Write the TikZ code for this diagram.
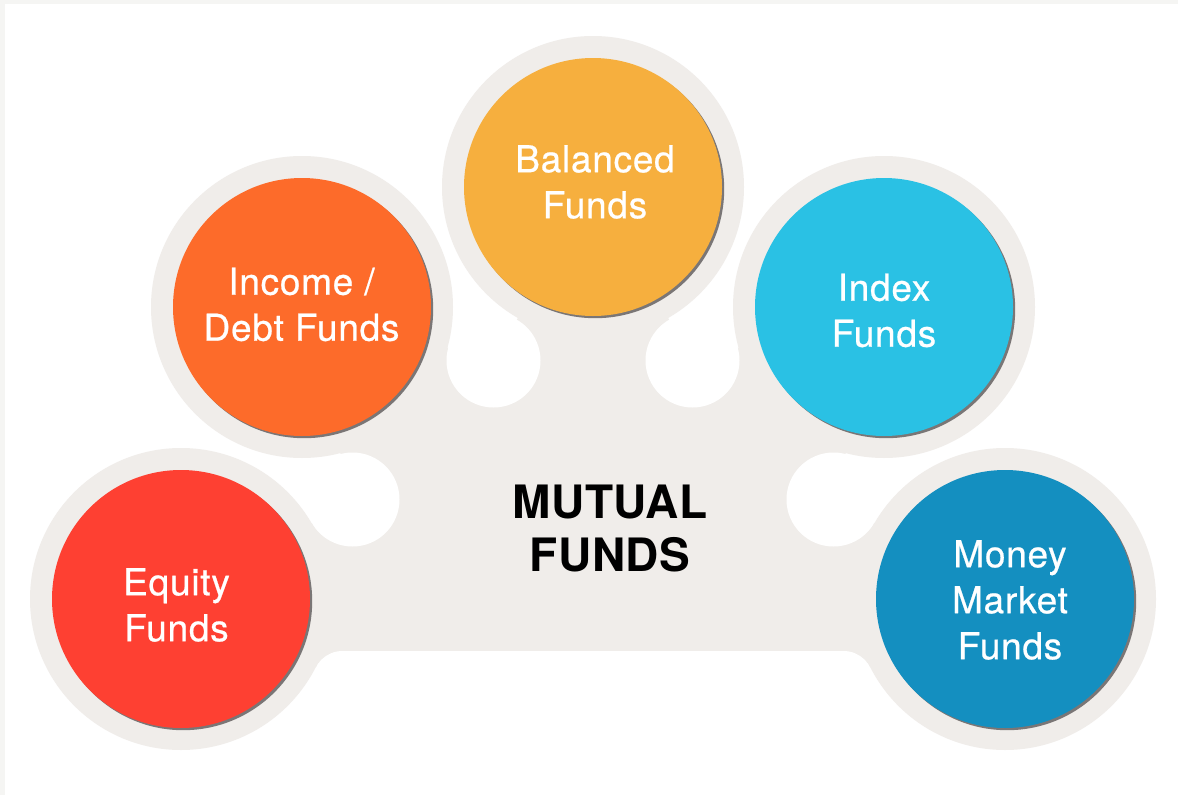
\documentclass[tikz,border=0pt]{standalone}
\usepackage{fontspec}
\setmainfont{TeX Gyre Heros}
\newfontfamily\lblfont[LetterSpace=2.0,FakeBold=0.6]{TeX Gyre Heros}
\newfontfamily\mffont[LetterSpace=1.0]{TeX Gyre Heros}
\definecolor{framec}{HTML}{F5F5F3}
\definecolor{haloc}{HTML}{F0EDEA}
\definecolor{eqcol}{HTML}{FE4032}
\definecolor{inccol}{HTML}{FD6B2A}
\definecolor{balcol}{HTML}{F6AF3E}
\definecolor{idxcol}{HTML}{2AC1E4}
\definecolor{moncol}{HTML}{148FC0}
\definecolor{shadc}{HTML}{7A7676}
\tikzset{
  fundc/.style={circle, minimum size=258pt, inner sep=0pt, draw=none},
  fundt/.style={text=white, align=center, inner sep=0pt, font=\lblfont\fontsize{37}{46}\selectfont},
  halo/.style={fill=haloc, draw=none},
  holec/.style={fill=white, draw=none}
}
\begin{document}
\begin{tikzpicture}[x=1pt,y=-1pt]
\useasboundingbox (0,0) rectangle (1178,795);
% frame
\fill[framec] (0,0) rectangle (1178,795);
\fill[white] (5,4) rectangle (1178,795);
% key points
\coordinate (eqc) at (181,599);
\coordinate (incc) at (302,307);
\coordinate (balc) at (593,187);
\coordinate (idxc) at (884,307);
\coordinate (monc) at (1005,599);
\coordinate (hLL) at (352.5,499.5);
\coordinate (hUL) at (493.5,360.5);
\coordinate (hUR) at (692.5,360.5);
\coordinate (hLR) at (833.5,499.5);
\coordinate (fL) at (342.5,681);
\coordinate (fR) at (843.5,681);
% central body
\fill[haloc] (eqc) -- (hLL) -- (incc) -- (hUL) -- (balc) -- (hUR) -- (idxc) -- (hLR) -- (monc) -- (fR) -- (fL) -- cycle;
% holes and fillets
\fill[holec] (hLL) circle[radius=47pt];
\fill[holec] (hUL) circle[radius=47pt];
\fill[holec] (hUR) circle[radius=47pt];
\fill[holec] (hLR) circle[radius=47pt];
\fill[holec] (fL) circle[radius=30pt];
\fill[holec] (fR) circle[radius=30pt];
\fill[holec] (342.5,651) rectangle (843.5,690);
% halos
\foreach \c in {eqc,incc,balc,idxc,monc}{
  \fill[halo] (\c) circle[radius=151pt];
  \fill[shadc] (\c) ++(2.2,2.2) circle[radius=129pt];
}
% coloured circles
\node[fundc, fill=eqcol] (eq) at (eqc) {};
\node[fundc, fill=inccol] (inc) at (incc) {};
\node[fundc, fill=balcol] (bal) at (balc) {};
\node[fundc, fill=idxcol] (idx) at (idxc) {};
\node[fundc, fill=moncol] (mon) at (monc) {};
% labels
\node[fundt] (eqt) at (176.5,605) {Equity\\Funds};
\node[fundt] (inct) at (301.5,304.5) {Income /\\Debt Funds};
\node[fundt] (balt) at (595,182) {Balanced\\Funds};
\node[fundt] (idxt) at (884,310.5) {Index\\Funds};
\node[fundt] (mont) at (1010,600) {Money\\Market\\Funds};
\node[text=black, align=center, inner sep=0pt, font=\mffont\bfseries\fontsize{46}{53}\selectfont] (mf) at (610,529) {MUTUAL\\FUNDS};
\end{tikzpicture}
\end{document}
